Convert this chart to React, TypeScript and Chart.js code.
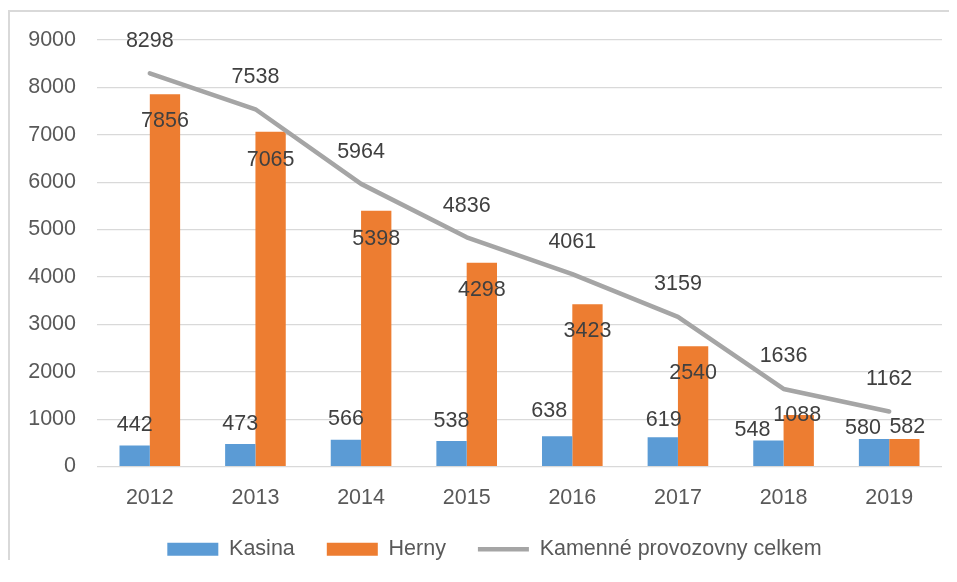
import React, { useEffect, useRef } from 'react';
import { Chart, registerables } from 'chart.js';

Chart.register(...registerables);

const YEARS = ['2012', '2013', '2014', '2015', '2016', '2017', '2018', '2019'];
const KASINA = [442, 473, 566, 538, 638, 619, 548, 580];
const HERNY = [7856, 7065, 5398, 4298, 3423, 2540, 1088, 582];
const CELKEM = [8298, 7538, 5964, 4836, 4061, 3159, 1636, 1162];
const SERIES_NAMES = ['Kasina', 'Herny', 'Kamenné provozovny celkem'];
const Y_MIN = 0;
const Y_MAX = 9000;
const Y_STEP = 1000;

// label nudges (dx, dy) relative to each mark's anchor, in px
const KASINA_LABEL_NUDGE = [[0, -20], [0, -20], [0, -21], [0, -20], [-8, -25], [1, -17], [-16, -10.5], [-11, -11.4]];
const HERNY_LABEL_NUDGE = [[0, 27], [0, 28], [0, 28], [0, 27], [0, 27], [0, 27], [-1.5, 0], [3, -11.4]];
const CELKEM_LABEL_NUDGE = [[0, -32], [0, -32], [0, -32], [0, -31], [0, -32], [0, -33], [0, -32.5], [0, -32.5]];

const FONT = '"Liberation Sans", Arial, sans-serif';
const FONT_SIZE = 21.5;

const dataLabels = {
  id: 'dataLabels',
  afterDatasetsDraw(chart: any) {
    const ctx = chart.ctx;
    const nudges = [KASINA_LABEL_NUDGE, HERNY_LABEL_NUDGE, CELKEM_LABEL_NUDGE];
    ctx.save();
    ctx.font = `${FONT_SIZE}px ${FONT}`;
    ctx.fillStyle = '#404040';
    ctx.textAlign = 'center';
    ctx.textBaseline = 'middle';
    chart.data.datasets.forEach((ds: any, di: number) => {
      const meta = chart.getDatasetMeta(di);
      meta.data.forEach((el: any, i: number) => {
        const [dx, dy] = nudges[di][i];
        ctx.fillText(String(ds.data[i]), el.x + dx, el.y + dy);
      });
    });
    ctx.restore();
  },
};

export default function App() {
  const ref = useRef<HTMLCanvasElement | null>(null);

  useEffect(() => {
    if (!ref.current) return;
    const baseGen = (Chart.defaults as any).plugins.legend.labels.generateLabels;
    const chart = new Chart(ref.current, {
      type: 'bar',
      data: {
        labels: YEARS,
        datasets: [
          {
            type: 'bar',
            label: SERIES_NAMES[0],
            data: KASINA,
            backgroundColor: '#5B9BD5',
            categoryPercentage: 0.574,
            barPercentage: 1,
            order: 1,
            yAxisID: 'y',
          },
          {
            type: 'bar',
            label: SERIES_NAMES[1],
            data: HERNY,
            backgroundColor: '#ED7D31',
            categoryPercentage: 0.574,
            barPercentage: 1,
            order: 1,
            yAxisID: 'y',
          },
          {
            type: 'line',
            label: SERIES_NAMES[2],
            data: CELKEM,
            borderColor: '#A5A5A5',
            backgroundColor: '#A5A5A5',
            borderWidth: 4.5,
            pointRadius: 0,
            tension: 0,
            borderJoinStyle: 'round',
            borderCapStyle: 'round',
            order: 0,
            yAxisID: 'y',
          } as any,
        ],
      },
      options: {
        responsive: false,
        animation: false,
        devicePixelRatio: 1,
        layout: { padding: { left: 10, right: 0, top: 28, bottom: 0 } },
        plugins: {
          tooltip: { enabled: false },
          legend: {
            position: 'bottom',
            labels: {
              usePointStyle: true,
              pointStyleWidth: 51,
              boxHeight: 13,
              padding: 32,
              color: '#595959',
              font: { family: FONT, size: FONT_SIZE },
              sort: (a: any, b: any) => a.datasetIndex - b.datasetIndex,
              generateLabels: (c: any) =>
                baseGen(c).map((l: any) => {
                  const isLine = c.data.datasets[l.datasetIndex].type === 'line';
                  return {
                    ...l,
                    pointStyle: isLine ? 'line' : 'rect',
                    lineWidth: isLine ? 4.5 : 0,
                    lineCap: 'butt',
                  };
                }),
            },
          },
        },
        scales: {
          x: {
            grid: { display: false },
            border: { display: false },
            ticks: {
              color: '#595959',
              font: { family: FONT, size: FONT_SIZE },
              padding: 11,
            },
            afterFit: (s: any) => {
              s.height = 40;
            },
          },
          y: {
            position: 'left',
            min: Y_MIN,
            max: Y_MAX,
            ticks: {
              stepSize: Y_STEP,
              color: '#595959',
              font: { family: FONT, size: FONT_SIZE, lineHeight: 0.6 },
              padding: 21,
              callback: (v: any) => String(v),
            },
            grid: { color: '#D9D9D9', drawTicks: false, lineWidth: 1.2 },
            border: { display: false },
            afterFit: (s: any) => {
              s.width = 77;
            },
          },
          yRight: {
            position: 'right',
            display: true,
            grid: { display: false, drawTicks: false },
            ticks: { display: false },
            border: { display: false },
            afterFit: (s: any) => {
              s.width = 27;
            },
          },
        },
      },
      plugins: [dataLabels],
    } as any);
    return () => chart.destroy();
  }, []);

  return (
    <div
      style={{
        position: 'relative',
        top: 2,
        width: 949,
        height: 572,
        marginBottom: -20,
        boxSizing: 'border-box',
        borderTop: '2px solid #D9D9D9',
        borderLeft: '2px solid #D9D9D9',
        overflow: 'hidden',
        background: '#fff',
      }}
    >
      <canvas ref={ref} width={959} height={558} style={{ display: 'block' }} />
    </div>
  );
}
